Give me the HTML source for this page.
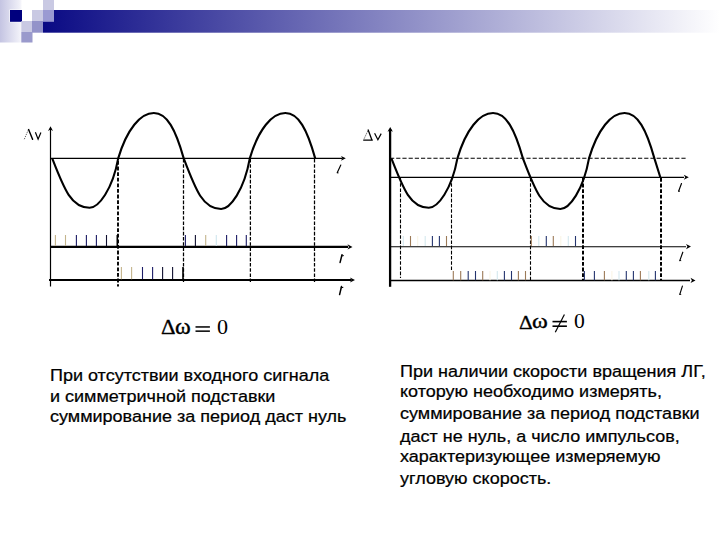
<!DOCTYPE html>
<html><head><meta charset="utf-8"><style>
html,body{margin:0;padding:0;background:#fff;}
body{width:720px;height:540px;position:relative;overflow:hidden;}
svg{position:absolute;left:0;top:0;}
.t{position:absolute;font-family:"Liberation Sans",sans-serif;color:#000;white-space:nowrap;-webkit-text-stroke:0.25px #000;}
.s{position:absolute;font-family:"Liberation Serif",serif;color:#000;white-space:nowrap;}
</style></head><body>
<svg width="720" height="540" viewBox="0 0 720 540">
<defs><linearGradient id="gl" x1="0" y1="0" x2="1" y2="0"><stop offset="0" stop-color="#c4c4e2"/><stop offset="0.85" stop-color="#ededf7"/><stop offset="1" stop-color="#f6f6fb"/></linearGradient><linearGradient id="gb" x1="0" y1="0" x2="1" y2="0"><stop offset="0" stop-color="#0a0a84"/><stop offset="1" stop-color="#ffffff"/></linearGradient></defs>
<rect x="0" y="0" width="21.5" height="42.5" fill="url(#gl)"/>
<rect x="43" y="10" width="677" height="22.7" fill="url(#gb)"/>
<rect x="9.5" y="9.5" width="13" height="12.8" fill="#fff"/><rect x="10" y="10" width="12" height="11.8" fill="#00007e"/>
<rect x="43" y="0" width="11" height="10" fill="#c9c9e3"/>
<rect x="32" y="10" width="11" height="11" fill="#c9c9e3"/>
<rect x="43" y="10" width="11" height="11.8" fill="#9a9ad2"/>
<rect x="21.3" y="21" width="10.7" height="11" fill="#c9c9e3"/>
<rect x="32" y="21" width="11" height="11.7" fill="#9393c9"/>
<rect x="21.3" y="32" width="11.2" height="10.5" fill="#9a9acc"/>
<line x1="50.5" y1="128" x2="50.5" y2="286.5" stroke="#000" stroke-width="1.2"/>
<path d="M50.5,126.3 L48.0,130.9 L50.5,129.6 L53.0,130.9 Z" fill="#000"/>
<line x1="50.5" y1="158.4" x2="342" y2="158.4" stroke="#000" stroke-width="1.2"/>
<path d="M345.8,158.3 L341.0,155.9 L342.3,158.3 L341.0,160.7 Z" fill="#000"/>
<line x1="50.5" y1="246.9" x2="348" y2="246.9" stroke="#000" stroke-width="2.1"/>
<path d="M352.5,246.9 L347.5,244.3 L348.9,246.9 L347.5,249.5 Z" fill="#000"/>
<line x1="49" y1="280" x2="351" y2="280" stroke="#000" stroke-width="2.1"/>
<path d="M355.0,280.0 L350.0,277.4 L351.4,280.0 L350.0,282.6 Z" fill="#000"/>
<line x1="118.0" y1="159" x2="118.0" y2="286.5" stroke="#000" stroke-width="1.9" stroke-dasharray="3.8,1.8" stroke-dashoffset="-2"/>
<line x1="183.5" y1="159" x2="183.5" y2="282" stroke="#000" stroke-width="1.25" stroke-dasharray="3.6,1.6"/>
<line x1="250.4" y1="159" x2="250.4" y2="282" stroke="#000" stroke-width="1.25" stroke-dasharray="3.6,1.6"/>
<line x1="314.5" y1="159" x2="314.5" y2="282" stroke="#000" stroke-width="1.25" stroke-dasharray="3.6,1.6"/>
<line x1="55.4" y1="235.0" x2="55.4" y2="246.0" stroke="#c4b48c" stroke-width="1.10"/><line x1="65.5" y1="235.0" x2="65.5" y2="246.0" stroke="#c4b48c" stroke-width="1.10"/><line x1="76.4" y1="235.0" x2="76.4" y2="246.0" stroke="#1c1c66" stroke-width="1.10"/><line x1="86.4" y1="235.0" x2="86.4" y2="246.0" stroke="#1c1c66" stroke-width="1.10"/><line x1="96.4" y1="235.0" x2="96.4" y2="246.0" stroke="#1c1c66" stroke-width="1.10"/><line x1="106.5" y1="235.0" x2="106.5" y2="246.0" stroke="#101030" stroke-width="1.10"/><line x1="117.3" y1="235.0" x2="117.3" y2="246.0" stroke="#000" stroke-width="1.60"/>
<line x1="185.4" y1="235.0" x2="185.4" y2="246.0" stroke="#1c1c66" stroke-width="1.10"/><line x1="195.4" y1="235.0" x2="195.4" y2="246.0" stroke="#101030" stroke-width="1.10"/><line x1="205.7" y1="235.0" x2="205.7" y2="246.0" stroke="#c4b48c" stroke-width="1.10"/><line x1="216.3" y1="235.0" x2="216.3" y2="246.0" stroke="#cfe6ee" stroke-width="1.10"/><line x1="226.6" y1="235.0" x2="226.6" y2="246.0" stroke="#1c1c66" stroke-width="1.10"/><line x1="236.6" y1="235.0" x2="236.6" y2="246.0" stroke="#1c1c66" stroke-width="1.10"/><line x1="246.3" y1="235.0" x2="246.3" y2="246.0" stroke="#1c1c66" stroke-width="1.10"/>
<line x1="121.4" y1="267.0" x2="121.4" y2="279.2" stroke="#c4b48c" stroke-width="1.10"/><line x1="131.6" y1="267.0" x2="131.6" y2="279.2" stroke="#c4b48c" stroke-width="1.10"/><line x1="142.5" y1="267.0" x2="142.5" y2="279.2" stroke="#1c1c66" stroke-width="1.10"/><line x1="152.6" y1="267.0" x2="152.6" y2="279.2" stroke="#1c1c66" stroke-width="1.10"/><line x1="162.6" y1="267.0" x2="162.6" y2="279.2" stroke="#101030" stroke-width="1.10"/><line x1="172.6" y1="267.0" x2="172.6" y2="279.2" stroke="#101030" stroke-width="1.10"/><line x1="183.0" y1="267.0" x2="183.0" y2="279.2" stroke="#000" stroke-width="1.60"/>
<path d="M52.20,158.40 C63.97,188.68 71.05,207.74 89.58,207.74 C98.58,207.74 112.53,189.54 118.20,158.40 C126.89,129.10 140.49,113.05 153.83,113.05 C167.04,113.05 175.62,129.41 183.70,158.40 C195.49,189.42 202.58,208.94 221.13,208.94 C230.15,208.94 244.12,190.29 249.80,158.40 C258.47,129.10 272.06,113.05 285.37,113.05 C298.57,113.05 307.13,129.41 315.20,158.40" fill="none" stroke="#000" stroke-width="2.1"/>
<line x1="390.1" y1="129" x2="390.1" y2="286.8" stroke="#000" stroke-width="2.3"/>
<path d="M390.2,127.0 L387.5,131.8 L390.2,130.5 L392.9,131.8 Z" fill="#000"/>
<line x1="390" y1="158.2" x2="687" y2="158.2" stroke="#000" stroke-width="1.1" stroke-dasharray="4.2,2"/>
<line x1="390" y1="177.3" x2="684" y2="177.3" stroke="#000" stroke-width="1.3"/>
<path d="M688.8,177.3 L683.8,174.8 L685.2,177.3 L683.8,179.8 Z" fill="#000"/>
<line x1="390" y1="246.7" x2="686" y2="246.7" stroke="#000" stroke-width="1.15"/>
<path d="M691.0,246.6 L686.0,244.0 L687.4,246.6 L686.0,249.2 Z" fill="#000"/>
<line x1="390" y1="280.5" x2="690" y2="280.5" stroke="#000" stroke-width="1.3"/>
<path d="M695.5,280.4 L690.5,277.8 L691.9,280.4 L690.5,283.0 Z" fill="#000"/>
<line x1="400.5" y1="178" x2="400.5" y2="278.0" stroke="#000" stroke-width="1.1" stroke-dasharray="3.6,1.6"/>
<line x1="451.5" y1="178" x2="451.5" y2="271.0" stroke="#000" stroke-width="1.1" stroke-dasharray="3.6,1.6"/>
<line x1="530.5" y1="178" x2="530.5" y2="280.0" stroke="#000" stroke-width="1.1" stroke-dasharray="3.6,1.6"/>
<line x1="583.0" y1="178" x2="583.0" y2="281" stroke="#000" stroke-width="2.0" stroke-dasharray="3.8,1.8"/>
<line x1="661.0" y1="178" x2="661.0" y2="281" stroke="#000" stroke-width="2.0" stroke-dasharray="3.8,1.8"/>
<line x1="403.3" y1="236.0" x2="403.3" y2="246.0" stroke="#d4e8ee" stroke-width="1.10"/><line x1="410.5" y1="236.0" x2="410.5" y2="246.0" stroke="#9c7a58" stroke-width="1.10"/><line x1="417.7" y1="236.0" x2="417.7" y2="246.0" stroke="#faf5e6" stroke-width="1.10"/><line x1="425.2" y1="236.0" x2="425.2" y2="246.0" stroke="#d4e8ee" stroke-width="1.10"/><line x1="432.4" y1="236.0" x2="432.4" y2="246.0" stroke="#24346e" stroke-width="1.10"/><line x1="439.4" y1="236.0" x2="439.4" y2="246.0" stroke="#24346e" stroke-width="1.10"/><line x1="446.5" y1="236.0" x2="446.5" y2="246.0" stroke="#9c7a58" stroke-width="1.10"/>
<line x1="531.3" y1="236.0" x2="531.3" y2="246.0" stroke="#9c7a58" stroke-width="1.10"/><line x1="538.8" y1="236.0" x2="538.8" y2="246.0" stroke="#d4e8ee" stroke-width="1.10"/><line x1="546.3" y1="236.0" x2="546.3" y2="246.0" stroke="#24346e" stroke-width="1.10"/><line x1="553.3" y1="236.0" x2="553.3" y2="246.0" stroke="#9c7a58" stroke-width="1.10"/><line x1="560.8" y1="236.0" x2="560.8" y2="246.0" stroke="#faf5e6" stroke-width="1.10"/><line x1="568.3" y1="236.0" x2="568.3" y2="246.0" stroke="#d4e8ee" stroke-width="1.10"/><line x1="575.5" y1="236.0" x2="575.5" y2="246.0" stroke="#24346e" stroke-width="1.10"/>
<line x1="453.3" y1="271.0" x2="453.3" y2="280.2" stroke="#9c7a58" stroke-width="1.10"/><line x1="460.7" y1="271.0" x2="460.7" y2="280.2" stroke="#9c7a58" stroke-width="1.10"/><line x1="468.2" y1="271.0" x2="468.2" y2="280.2" stroke="#24346e" stroke-width="1.10"/><line x1="475.5" y1="271.0" x2="475.5" y2="280.2" stroke="#24346e" stroke-width="1.10"/><line x1="482.7" y1="271.0" x2="482.7" y2="280.2" stroke="#9c7a58" stroke-width="1.10"/><line x1="490.0" y1="271.0" x2="490.0" y2="280.2" stroke="#faf5e6" stroke-width="1.10"/><line x1="497.3" y1="271.0" x2="497.3" y2="280.2" stroke="#d4e8ee" stroke-width="1.10"/><line x1="504.4" y1="271.0" x2="504.4" y2="280.2" stroke="#24346e" stroke-width="1.10"/><line x1="511.5" y1="271.0" x2="511.5" y2="280.2" stroke="#24346e" stroke-width="1.10"/><line x1="518.4" y1="271.0" x2="518.4" y2="280.2" stroke="#9c7a58" stroke-width="1.10"/><line x1="525.5" y1="271.0" x2="525.5" y2="280.2" stroke="#9c7a58" stroke-width="1.10"/>
<line x1="584.4" y1="271.0" x2="584.4" y2="280.2" stroke="#24346e" stroke-width="1.10"/><line x1="594.4" y1="271.0" x2="594.4" y2="280.2" stroke="#24346e" stroke-width="1.10"/><line x1="604.4" y1="271.0" x2="604.4" y2="280.2" stroke="#9c7a58" stroke-width="1.10"/><line x1="611.9" y1="271.0" x2="611.9" y2="280.2" stroke="#faf5e6" stroke-width="1.10"/><line x1="619.0" y1="271.0" x2="619.0" y2="280.2" stroke="#d4e8ee" stroke-width="1.10"/><line x1="626.3" y1="271.0" x2="626.3" y2="280.2" stroke="#24346e" stroke-width="1.10"/><line x1="633.4" y1="271.0" x2="633.4" y2="280.2" stroke="#24346e" stroke-width="1.10"/><line x1="640.4" y1="271.0" x2="640.4" y2="280.2" stroke="#9c7a58" stroke-width="1.10"/><line x1="648.8" y1="271.0" x2="648.8" y2="280.2" stroke="#d4e8ee" stroke-width="1.10"/><line x1="655.4" y1="271.0" x2="655.4" y2="280.2" stroke="#24346e" stroke-width="1.10"/>
<path d="M391.40,158.40 C403.17,188.68 410.25,207.74 428.78,207.74 C437.78,207.74 451.73,189.54 457.40,158.40 C466.09,129.10 479.69,113.05 493.03,113.05 C506.24,113.05 514.82,129.41 522.90,158.40 C534.69,189.42 541.78,208.94 560.33,208.94 C569.35,208.94 583.32,190.29 589.00,158.40 C597.67,129.10 611.26,113.05 624.57,113.05 C637.77,113.05 646.33,129.41 654.40,158.40 L660.30,177.30" fill="none" stroke="#000" stroke-width="2.1"/>
<rect x="195.5" y="326.2" width="14.4" height="1.5" fill="#000"/>
<rect x="195.5" y="330.4" width="14.4" height="1.5" fill="#000"/>
<rect x="552.5" y="320.8" width="14.4" height="1.6" fill="#000"/>
<rect x="552.5" y="325.4" width="14.4" height="1.6" fill="#000"/>
<line x1="555.3" y1="332.2" x2="564.4" y2="314.5" stroke="#000" stroke-width="1.2"/>
<path d="M24.3,139.2 L28.6,129.2" stroke="#555" stroke-width="0.9" fill="none" stroke-dasharray="1.3,1"/>
<path d="M28.4,128.9 L32.6,139.3 L33.2,139.4" stroke="#000" stroke-width="1.4" fill="none"/>
<path d="M35.4,132.2 L38.1,139.2 L40.9,132.4" stroke="#000" stroke-width="1.2" fill="none"/>
<path d="M364.2,138.6 L368.2,130" stroke="#444" stroke-width="0.9" fill="none" stroke-dasharray="1.3,1"/>
<path d="M368,129.6 L372,140.2 M363.2,140.2 L372.8,140.2" stroke="#000" stroke-width="1.3" fill="none"/>
<path d="M374.6,133.3 L377.9,139.8 L381.2,133.6" stroke="#000" stroke-width="1.2" fill="none"/>
<path d="M337.2,172.8 L340.8,165.0" stroke="#000" stroke-width="1.15" fill="none" stroke-linecap="round"/><path d="M337.0,172.6 L338.6,172.9" stroke="#000" stroke-width="0.9"/>
<path d="M340.1,262.4 L342.0,254.7" stroke="#000" stroke-width="1.50" fill="none" stroke-linecap="round"/><path d="M341.2,256.0 L343.8,255.6" stroke="#000" stroke-width="1.0"/>
<path d="M339.6,294.6 L341.5,286.5" stroke="#000" stroke-width="1.50" fill="none" stroke-linecap="round"/><path d="M340.7,287.8 L343.3,287.4" stroke="#000" stroke-width="1.0"/>
<path d="M678.6,191.2 L681.5,183.5" stroke="#000" stroke-width="1.15" fill="none" stroke-linecap="round"/><path d="M678.4,191.0 L680.0,191.3" stroke="#000" stroke-width="0.9"/>
<path d="M679.8,260.6 L682.8,252.2" stroke="#000" stroke-width="1.15" fill="none" stroke-linecap="round"/><path d="M679.6,260.4 L681.2,260.7" stroke="#000" stroke-width="0.9"/>
<path d="M679.8,294.4 L682.4,286.1" stroke="#000" stroke-width="1.15" fill="none" stroke-linecap="round"/><path d="M679.6,294.2 L681.2,294.5" stroke="#000" stroke-width="0.9"/>
</svg>
<div style="position:absolute;left:161.19px;top:315.05px;font-family:'Liberation Serif';font-size:20.909px;line-height:1.2;white-space:nowrap;transform:scaleX(1.0824);transform-origin:0 0;-webkit-text-stroke:0.3px #000;">Δ</div>
<div style="position:absolute;left:175.04px;top:313.80px;font-family:'Liberation Serif';font-size:22.128px;line-height:1.2;white-space:nowrap;transform:scaleX(1.0831);transform-origin:0 0;-webkit-text-stroke:0.35px #000;">ω</div>
<div style="position:absolute;left:217.21px;top:314.00px;font-family:'Liberation Serif';font-size:21.791px;line-height:1.2;white-space:nowrap;transform:scaleX(1.0161);transform-origin:0 0;">0</div>
<div style="position:absolute;left:519.05px;top:310.68px;font-family:'Liberation Serif';font-size:19.697px;line-height:1.2;white-space:nowrap;transform:scaleX(1.0777);transform-origin:0 0;-webkit-text-stroke:0.3px #000;">Δ</div>
<div style="position:absolute;left:532.04px;top:309.40px;font-family:'Liberation Serif';font-size:20.851px;line-height:1.2;white-space:nowrap;transform:scaleX(1.1494);transform-origin:0 0;-webkit-text-stroke:0.35px #000;">ω</div>
<div style="position:absolute;left:573.73px;top:309.17px;font-family:'Liberation Serif';font-size:21.194px;line-height:1.2;white-space:nowrap;transform:scaleX(1.0223);transform-origin:0 0;">0</div>
<div class="t" style="left:50.00px;top:364.76px;font-size:18.00px;line-height:21.60px;transform:scale(1.0000,0.9500);transform-origin:0 17.04px;">При отсутствии входного сигнала</div>
<div class="t" style="left:50.00px;top:385.56px;font-size:18.00px;line-height:21.60px;transform:scale(1.0000,0.9500);transform-origin:0 17.04px;">и симметричной подставки</div>
<div class="t" style="left:50.00px;top:406.06px;font-size:18.00px;line-height:21.60px;transform:scale(1.0000,0.9500);transform-origin:0 17.04px;">суммирование за период даст нуль</div>
<div class="t" style="left:400.00px;top:361.06px;font-size:18.00px;line-height:21.60px;transform:scale(1.0000,0.9500);transform-origin:0 17.04px;">При наличии скорости вращения ЛГ,</div>
<div class="t" style="left:400.00px;top:381.36px;font-size:18.00px;line-height:21.60px;transform:scale(1.0000,0.9500);transform-origin:0 17.04px;">которую необходимо измерять,</div>
<div class="t" style="left:400.00px;top:403.36px;font-size:18.00px;line-height:21.60px;transform:scale(1.0000,0.9500);transform-origin:0 17.04px;">суммирование за период подставки</div>
<div class="t" style="left:400.00px;top:425.76px;font-size:18.00px;line-height:21.60px;transform:scale(1.0000,0.9500);transform-origin:0 17.04px;">даст не нуль, а число импульсов,</div>
<div class="t" style="left:400.00px;top:446.16px;font-size:18.00px;line-height:21.60px;transform:scale(1.0000,0.9500);transform-origin:0 17.04px;">характеризующее измеряемую</div>
<div class="t" style="left:400.00px;top:467.86px;font-size:18.00px;line-height:21.60px;transform:scale(1.0000,0.9500);transform-origin:0 17.04px;">угловую скорость.</div>
</body></html>
